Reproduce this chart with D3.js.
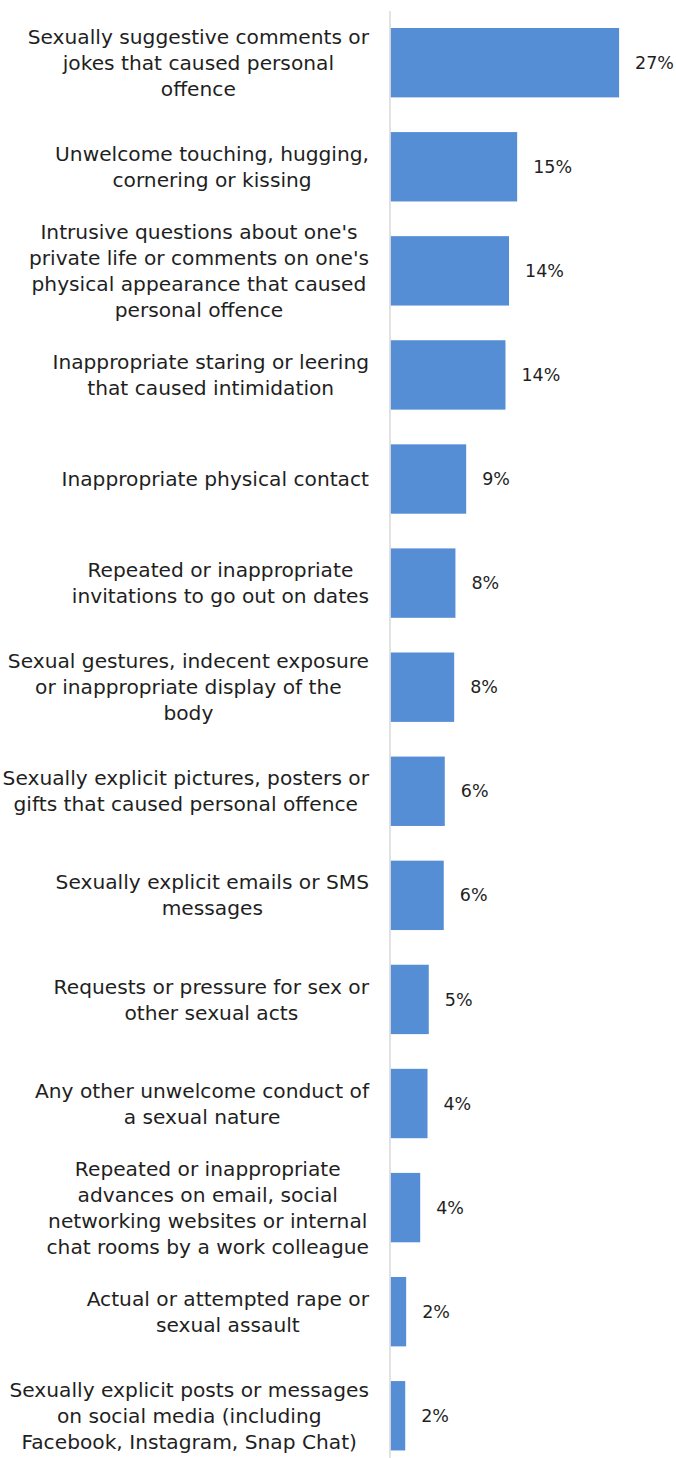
<!DOCTYPE html>
<html>
<head>
<meta charset="utf-8">
<script src="https://cdn.jsdelivr.net/npm/d3@7"></script>
<style>
  html, body { margin: 0; padding: 0; background: #ffffff; }
  svg { display: block; }
  text { font-family: "DejaVu Sans", "Open Sans", sans-serif; fill: #1f1f1f; }
</style>
</head>
<body>
<svg id="chart" width="676" height="1458"></svg>
<script>
// Categories, each split into the lines it is printed on
const categories = [
  ["Sexually suggestive comments or", "jokes that caused personal", "offence"],
  ["Unwelcome touching, hugging,", "cornering or kissing"],
  ["Intrusive questions about one's", "private life or comments on one's", "physical appearance that caused", "personal offence"],
  ["Inappropriate staring or leering", "that caused intimidation"],
  ["Inappropriate physical contact"],
  ["Repeated or inappropriate", "invitations to go out on dates"],
  ["Sexual gestures, indecent exposure", "or inappropriate display of the", "body"],
  ["Sexually explicit pictures, posters or", "gifts that caused personal offence"],
  ["Sexually explicit emails or SMS", "messages"],
  ["Requests or pressure for sex or", "other sexual acts"],
  ["Any other unwelcome conduct of", "a sexual nature"],
  ["Repeated or inappropriate", "advances on email, social", "networking websites or internal", "chat rooms by a work colleague"],
  ["Actual or attempted rape or", "sexual assault"],
  ["Sexually explicit posts or messages", "on social media (including", "Facebook, Instagram, Snap Chat)"]
];

// Share of respondents (%)
const values = [27.0, 14.96, 14.0, 13.58, 8.94, 7.67, 7.52, 6.41, 6.29, 4.52, 4.37, 3.51, 1.85, 1.74];

const keys = categories.map(c => c.join(" "));

const svg = d3.select("#chart");

const y = d3.scaleBand()
  .domain(keys)
  .range([10.65, 1467.8])
  .paddingInner(1 / 3)
  .paddingOuter(1 / 6);

const x = d3.scaleLinear()
  .domain([0, 30])
  .range([390.5, 644.5]);

// Bars
svg.append("g")
  .selectAll("rect")
  .data(values)
  .join("rect")
  .attr("x", x(0))
  .attr("y", (d, i) => y(keys[i]))
  .attr("width", d => x(d) - x(0))
  .attr("height", y.bandwidth())
  .attr("fill", "#558ed5");

// Category axis line
const axis = svg.append("g")
  .attr("transform", "translate(389.5,0)")
  .call(d3.axisLeft(y).tickSize(0).tickFormat(""));
axis.select(".domain").attr("stroke", "#d9d9d9").attr("stroke-width", 1.5);

// Value labels
svg.append("g")
  .selectAll("text")
  .data(values)
  .join("text")
  .attr("x", d => x(d) + 16)
  .attr("y", (d, i) => y(keys[i]) + y.bandwidth() / 2)
  .attr("dy", "0.35em")
  .attr("font-size", 17.5)
  .text(d => Math.round(d) + "%");

// Category labels: each block is right-aligned to the axis, lines centred within it
const lineH = 26;
const rightEdge = 369;
const labels = svg.append("g").attr("font-size", 20.2);
categories.forEach((lines, i) => {
  const cy = y(keys[i]) + y.bandwidth() / 2;
  const g = labels.append("g");
  const texts = g.selectAll("text")
    .data(lines)
    .join("text")
    .attr("text-anchor", "middle")
    .attr("y", (d, j) => cy + (j - (lines.length - 1) / 2) * lineH)
    .attr("dy", "0.35em")
    .text(d => d);
  const maxW = d3.max(texts.nodes(), n => n.getComputedTextLength());
  texts.attr("x", rightEdge - maxW / 2);
});
</script>
</body>
</html>
